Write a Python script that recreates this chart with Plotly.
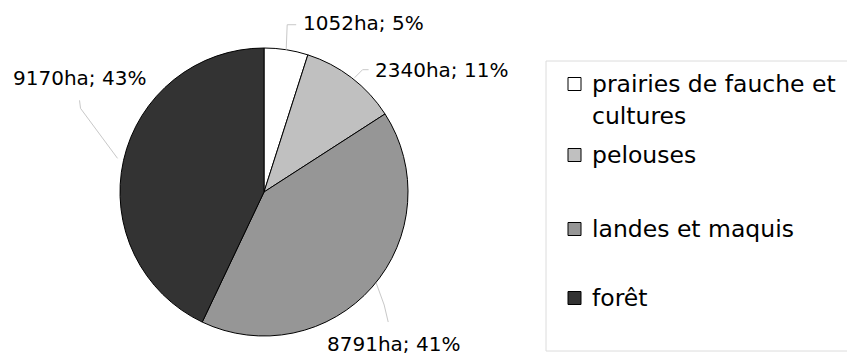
import math
import textwrap
import plotly.graph_objects as go

# Land-cover categories and their areas (ha)
categories = ["prairies de fauche et cultures", "pelouses", "landes et maquis", "forêt"]
areas_ha = [1052, 2340, 8791, 9170]
slice_colors = ["#ffffff", "#c0c0c0", "#969696", "#333333"]

W, H = 847, 358
CX, CY, R = 264, 192, 144  # pie centre and radius in pixels

total = sum(areas_ha)
percents = [round(100 * a / total) for a in areas_ha]
labels_txt = [f"{a}ha; {p}%" for a, p in zip(areas_ha, percents)]


def px(x, y):
    """Pixel position -> paper coordinates."""
    return x / W, 1 - y / H


fig = go.Figure(
    go.Pie(
        labels=categories,
        values=areas_ha,
        sort=False,
        direction="clockwise",
        rotation=0,
        marker=dict(colors=slice_colors, line=dict(color="#000000", width=1)),
        textinfo="none",
        hoverinfo="label+value+percent",
        showlegend=False,
        domain=dict(x=[(CX - R) / W, (CX + R) / W],
                    y=[(H - CY - R) / H, (H - CY + R) / H]),
    )
)

# Leader lines and label offsets, relative to the slice's mid-arc point (pixels)
leader_paths = [
    [(0, 0), (1, -25), (10, -25)],
    [(3, 0), (11, -8), (17, -8)],
    [(4, -4), (12, 18), (16, 35)],
    [(-6, -2), (-43, -52), (-44, -60)],
]
label_offsets = [
    (15, -27, "left"),
    (21, -8, "left"),
    (21, 57, "center"),
    (-44, -82, "center"),
]

shapes = []
annotations = []
cum = 0
for val, txt, path, (ldx, ldy, anchor) in zip(areas_ha, labels_txt, leader_paths, label_offsets):
    mid = (cum + val / 2) / total * 2 * math.pi
    cum += val
    ex = CX + R * math.sin(mid)
    ey = CY - R * math.cos(mid)
    pts = [px(ex + dx, ey + dy) for dx, dy in path]
    d = "M " + " L ".join(f"{x:.5f} {y:.5f}" for x, y in pts)
    shapes.append(dict(type="path", path=d, xref="paper", yref="paper",
                       line=dict(color="#c8c8c8", width=1)))
    lx, ly = px(ex + ldx, ey + ldy)
    annotations.append(dict(x=lx, y=ly, xref="paper", yref="paper", text=txt,
                            showarrow=False, xanchor=anchor, yanchor="middle",
                            font=dict(family="DejaVu Sans", size=20, color="#000000")))

# Legend frame
bx0, by0 = px(546, 61)
bx1, by1 = px(848, 351)
shapes.append(dict(type="rect", xref="paper", yref="paper", x0=bx0, y0=by1, x1=bx1, y1=by0,
                   line=dict(color="#dcdcdc", width=1), fillcolor="rgba(0,0,0,0)"))

# Legend entries
item_y = [84, 155, 229, 298]
for name, col, yc in zip(categories, slice_colors, item_y):
    sx0, sy0 = px(568, yc - 6.5)
    sx1, sy1 = px(581, yc + 6.5)
    shapes.append(dict(type="rect", xref="paper", yref="paper", x0=sx0, y0=sy1, x1=sx1, y1=sy0,
                       line=dict(color="#000000", width=1), fillcolor=col))
    for i, line in enumerate(textwrap.wrap(name, 21)):
        tx, ty = px(590, yc + i * 32)
        annotations.append(dict(x=tx, y=ty, xref="paper", yref="paper", text=line,
                                showarrow=False, xanchor="left", yanchor="middle",
                                font=dict(family="DejaVu Sans", size=23.5, color="#000000")))

fig.update_layout(
    width=W, height=H,
    margin=dict(l=0, r=0, t=0, b=0),
    paper_bgcolor="#ffffff",
    plot_bgcolor="#ffffff",
    shapes=shapes,
    annotations=annotations,
)

fig.write_html("out.html")
